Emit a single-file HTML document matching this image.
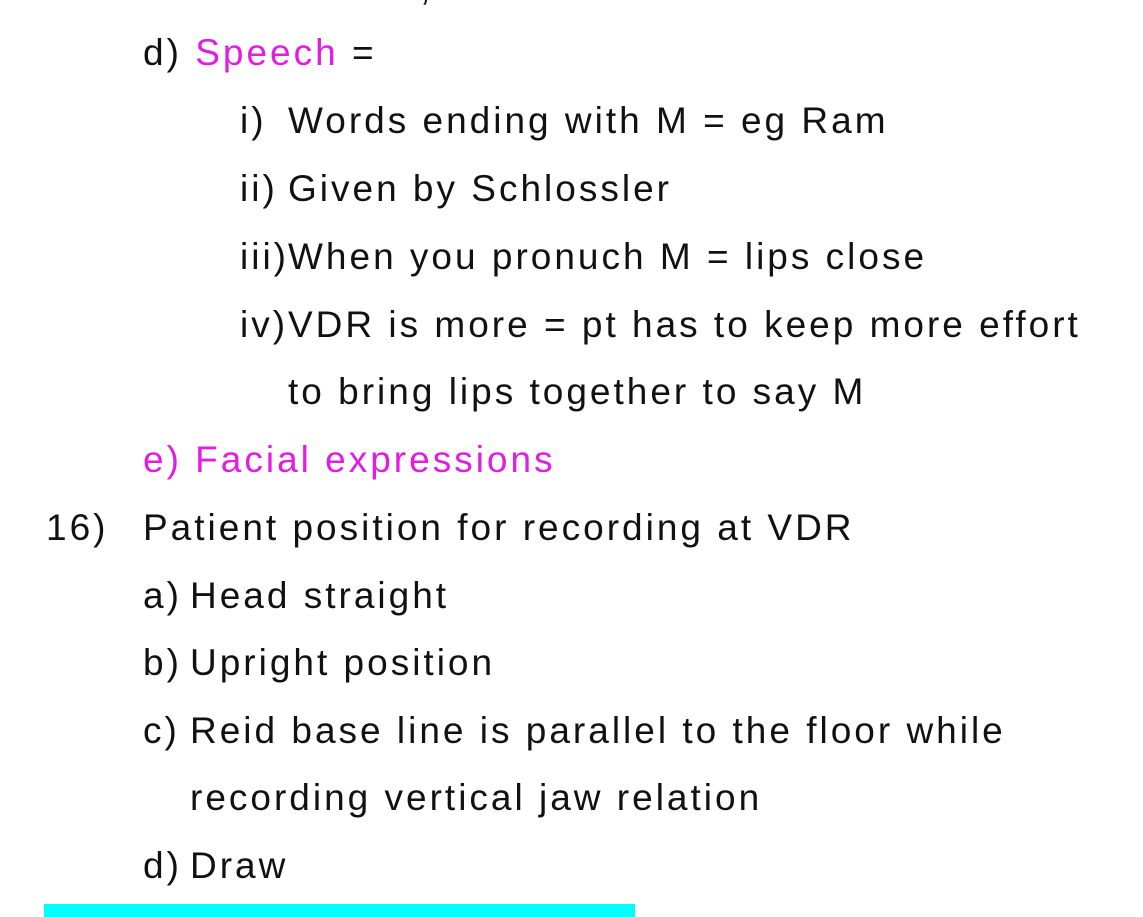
<!DOCTYPE html>
<html><head><meta charset="utf-8"><style>
body{margin:0;width:1143px;height:917px;background:#fff;position:relative;overflow:hidden;font-family:"Liberation Sans",sans-serif;font-size:37px;letter-spacing:3px;color:#111}
.l{position:absolute;white-space:nowrap;line-height:40px}
.m{color:#e01de0}
</style></head><body>
<div class="l" style="left:420px;top:-32px">,</div>
<div class="l" style="left:143px;top:33px">d) <span class="m">Speech</span> =</div>
<div class="l" style="left:240px;top:101px">i)</div><div class="l" style="left:288px;top:101px">Words ending with M = eg Ram</div>
<div class="l" style="left:240px;top:169px">ii)</div><div class="l" style="left:288px;top:169px">Given by Schlossler</div>
<div class="l" style="left:240px;top:237px">iii)</div><div class="l" style="left:288px;top:237px">When you pronuch M = lips close</div>
<div class="l" style="left:240px;top:305px">iv)</div><div class="l" style="left:288px;top:305px">VDR is more = pt has to keep more effort</div>
<div class="l" style="left:288px;top:372px">to bring lips together to say M</div>
<div class="l m" style="left:143px;top:440px">e) Facial expressions</div>
<div class="l" style="left:46px;top:508px">16)</div><div class="l" style="left:143px;top:508px">Patient position for recording at VDR</div>
<div class="l" style="left:143px;top:576px">a)</div><div class="l" style="left:190px;top:576px">Head straight</div>
<div class="l" style="left:143px;top:643px">b)</div><div class="l" style="left:190px;top:643px">Upright position</div>
<div class="l" style="left:143px;top:711px">c)</div><div class="l" style="left:190px;top:711px">Reid base line is parallel to the floor while</div>
<div class="l" style="left:190px;top:778px">recording vertical jaw relation</div>
<div class="l" style="left:143px;top:846px">d)</div><div class="l" style="left:190px;top:846px">Draw</div>
<div style="position:absolute;left:44px;top:904px;width:591px;height:13px;background:#00ffff"></div>
</body></html>
